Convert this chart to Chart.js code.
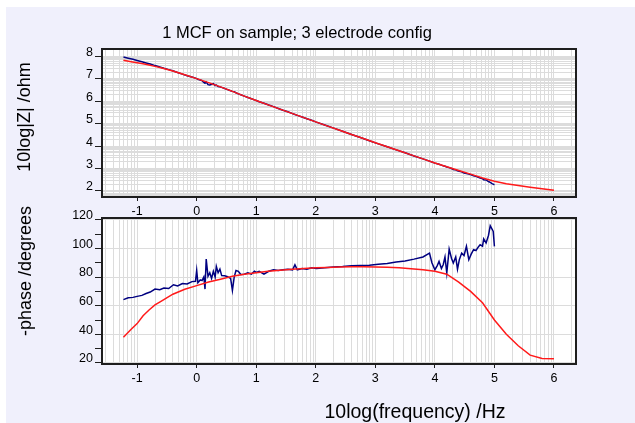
<!DOCTYPE html>
<html>
<head>
<meta charset="utf-8">
<script src="https://cdn.jsdelivr.net/npm/chart.js@4/dist/chart.umd.min.js"></script>
<style>
  html, body { margin: 0; padding: 0; background: #ffffff; width: 635px; height: 423px; overflow: hidden; }
  #panel { position: absolute; left: 6px; top: 7px; width: 629px; height: 416px; background: #f0f0fc; }
  canvas { position: absolute; left: 0; }
  #cZ { top: 0; }
  #cP { top: 200px; }
  .txt { position: absolute; font-family: "Liberation Sans", Arial, sans-serif; font-size: 18px; color: #000; white-space: nowrap; line-height: 1; }
  .rot { transform: translate(-50%, -50%) rotate(-90deg); }
  .ctr { transform: translate(-50%, -50%); }
</style>
</head>
<body>
<div id="panel"></div>
<canvas id="cZ" width="635" height="225"></canvas>
<canvas id="cP" width="635" height="223"></canvas>
<div class="txt ctr" style="left:297px; top:32px; font-size:16.5px;">1 MCF on sample; 3 electrode config</div>
<div class="txt rot" style="left:24px; top:117px;">10log|Z| /ohm</div>
<div class="txt rot" style="left:25px; top:271px;">-phase /degrees</div>
<div class="txt ctr" style="left:415px; top:412px; font-size:19.5px;">10log(frequency) /Hz</div>
<script>
// ---- tick labels ----
const freqTicks = [-1, 0, 1, 2, 3, 4, 5, 6];
const zTicks = [2, 3, 4, 5, 6, 7, 8];
const phaseTicks = [20, 40, 60, 80, 100, 120];

// ---- fitted model (red) ----
const fitLogF = [-1.23, -1.1, -1.0, -0.9, -0.8, -0.7, -0.6, -0.4, -0.2, 0.0, 0.2, 0.4, 0.6, 0.8, 1.0, 1.2, 1.4, 1.6, 1.8,
  2.0, 2.2, 2.4, 2.6, 2.8, 3.0, 3.2, 3.4, 3.6, 3.8, 4.0, 4.2, 4.4, 4.6, 4.8, 5.0, 5.2, 5.4, 5.6, 5.8, 6.0];
const fitZ = [7.83, 7.765, 7.72, 7.67, 7.62, 7.555, 7.49, 7.35, 7.18, 7.01, 6.83, 6.64, 6.44, 6.23, 6.03, 5.84, 5.65, 5.46, 5.27,
  5.08, 4.89, 4.71, 4.52, 4.34, 4.15, 3.97, 3.79, 3.61, 3.43, 3.25, 3.08, 2.91, 2.75, 2.58, 2.43, 2.32, 2.24, 2.17, 2.10, 2.03];
const fitPhase = [38, 43.5, 47.5, 53, 57, 60.5, 63, 68, 71.5, 74, 76.5, 78.5, 80.5, 82, 83, 84, 84.8, 85.5, 86,
  86.4, 86.7, 87, 87.1, 87.1, 87, 86.8, 86.4, 85.8, 85, 84, 82, 76.5, 70, 62, 50, 40, 32, 25.5, 23.2, 23];

// ---- measured data (blue) ----
const measLogF = [-1.23, -1.15, -1.07, -1.0, -0.92, -0.85, -0.78, -0.70, -0.62, -0.55, -0.47, -0.39, -0.32, -0.24, -0.16, -0.08, -0.02,
  0.0, 0.02, 0.06, 0.09, 0.12, 0.14, 0.16, 0.19, 0.22, 0.25, 0.28, 0.31, 0.33, 0.36, 0.39, 0.42, 0.47, 0.52, 0.57, 0.60, 0.63, 0.66,
  0.70, 0.74, 0.80, 0.86, 0.92, 0.97, 1.0, 1.05, 1.13, 1.21, 1.29, 1.37, 1.45, 1.53, 1.61, 1.65, 1.69, 1.77, 1.85, 1.93, 2.01,
  2.15, 2.30, 2.45, 2.60, 2.75, 2.90, 3.05, 3.20, 3.35, 3.50, 3.65, 3.80, 3.91, 3.95, 4.00, 4.04, 4.07, 4.11, 4.14, 4.17, 4.20,
  4.24, 4.28, 4.31, 4.35, 4.38, 4.41, 4.45, 4.49, 4.53, 4.57, 4.61, 4.65, 4.69, 4.73, 4.76, 4.80, 4.82, 4.86, 4.90, 4.93, 4.96, 4.98, 5.00];
const measZ = [7.97, 7.92, 7.87, 7.82, 7.76, 7.71, 7.66, 7.59, 7.53, 7.47, 7.41, 7.35, 7.28, 7.21, 7.14, 7.08, 7.03,
  7.01, 6.98, 6.95, 6.92, 6.84, 6.80, 6.86, 6.74, 6.73, 6.76, 6.79, 6.70, 6.72, 6.66, 6.64, 6.62, 6.57, 6.52, 6.47, 6.44, 6.42, 6.38,
  6.33, 6.29, 6.23, 6.17, 6.11, 6.06, 6.03, 5.98, 5.91, 5.83, 5.76, 5.68, 5.60, 5.53, 5.45, 5.41, 5.37, 5.30, 5.22, 5.15, 5.07,
  4.94, 4.80, 4.66, 4.52, 4.38, 4.24, 4.10, 3.97, 3.83, 3.70, 3.56, 3.43, 3.33, 3.29, 3.24, 3.21, 3.19, 3.15, 3.12, 3.10, 3.07,
  3.04, 3.00, 2.96, 2.94, 2.90, 2.88, 2.85, 2.80, 2.78, 2.75, 2.72, 2.68, 2.65, 2.61, 2.58, 2.55, 2.50, 2.49, 2.42, 2.38, 2.33, 2.30, 2.27];
const measPhase = [64.2, 65.5, 65.8, 66.5, 67.2, 68.5, 69.5, 71.6, 71.2, 72.3, 72.0, 74.6, 73.8, 75.5, 75.2, 76.8, 77,
  84.6, 76, 78, 77.5, 80, 71.6, 92.6, 80.5, 83, 79, 84, 80, 87.4, 83, 85.5, 81, 80.9, 80.2, 79, 70.7, 80, 84.6,
  84, 81.8, 82, 83, 82, 84, 83.2, 84, 82, 84, 85, 84.5, 85, 85.5, 85, 88.5, 85, 86, 85.5, 86.5, 86,
  86.5, 87, 87.3, 87.8, 88, 88.3, 88.9, 89.5, 90.5, 91.2, 92.5, 94, 96.7, 90, 85.1, 88, 90.9, 86, 88.6, 94, 82.8,
  99.5, 93, 89.8, 94, 85.5, 92, 96.7, 95, 101.4, 92.1, 96, 99.1, 98.5, 101, 102.6, 101.5, 106.6, 103.8, 109, 115.8, 113.5, 111.8, 101.4];

const FONT = { family: '"Liberation Sans", Arial, sans-serif', size: 12.5 };
const GRID = '#dcdcdc';
const INK = '#1e1e1e';
const FIT_COLOR = '#ff1a1a';
const MEAS_COLOR = '#000080';
const isInt = v => Math.abs(v - Math.round(v)) < 1e-9;

// decade-style subdivisions n + log10(k) between the integer ticks
function logSubdivisions(lo, hi) {
  const out = [];
  for (let n = Math.floor(lo) - 1; n <= Math.ceil(hi); n++) {
    for (let k = 1; k <= 9; k++) {
      const v = n + Math.log10(k);
      if (v >= lo - 1e-9 && v <= hi + 1e-9) out.push(v);
    }
  }
  return out;
}

const pts = (xs, ys) => xs.map((x, i) => ({ x, y: ys[i] }));
const series = (xs, ys, color) => ({ data: pts(xs, ys), borderColor: color, borderWidth: 1.5, pointRadius: 0, tension: 0 });

// white plotting area and dark frame around it
const framePlugin = {
  id: 'frame',
  beforeDraw(chart) {
    const a = chart.chartArea, c = chart.ctx;
    c.save();
    c.fillStyle = '#ffffff';
    c.fillRect(a.left, a.top, a.right - a.left, a.bottom - a.top);
    c.restore();
  },
  afterDatasetsDraw(chart) {
    const a = chart.chartArea, c = chart.ctx;
    c.save();
    c.strokeStyle = INK;
    c.lineWidth = 2;
    c.strokeRect(a.left, a.top, a.right - a.left, a.bottom - a.top);
    c.restore();
  }
};

function xScale(min, max) {
  return {
    type: 'linear', min, max,
    afterBuildTicks: s => { s.ticks = logSubdivisions(min, max).map(v => ({ value: v })); },
    afterFit: s => { s.height = 20; },
    border: { display: false },
    grid: {
      color: GRID, lineWidth: 1, drawTicks: true, tickLength: 4,
      tickColor: ctx => isInt(ctx.tick.value) && freqTicks.includes(Math.round(ctx.tick.value)) ? INK : 'rgba(0,0,0,0)',
      tickWidth: 1
    },
    ticks: {
      autoSkip: false, maxRotation: 0, padding: 3, color: '#000', font: FONT,
      callback: v => (isInt(v) && freqTicks.includes(Math.round(v))) ? String(Math.round(v)) : ''
    }
  };
}

const X_MIN = -1.59, X_MAX = 6.37;

// ---- impedance magnitude ----
const zMin = 1.73, zMax = 8.33;
new Chart(document.getElementById('cZ'), {
  type: 'line',
  data: { datasets: [series(fitLogF, fitZ, FIT_COLOR), series(measLogF, measZ, MEAS_COLOR)] },
  options: {
    responsive: false, animation: false, devicePixelRatio: 1,
    layout: { padding: { left: 62, right: 59, top: 49, bottom: 8 } },
    plugins: { legend: { display: false }, tooltip: { enabled: false } },
    scales: {
      x: xScale(X_MIN, X_MAX),
      y: {
        type: 'linear', min: zMin, max: zMax,
        afterBuildTicks: s => { s.ticks = logSubdivisions(zMin, zMax).map(v => ({ value: v })); },
        afterFit: s => { s.width = 40; },
        border: { display: false },
        grid: {
          color: GRID, lineWidth: 1, tickLength: 7, tickWidth: 1,
          tickColor: ctx => (isInt(ctx.tick.value) && zTicks.includes(Math.round(ctx.tick.value))) ? INK : 'rgba(0,0,0,0)'
        },
        ticks: {
          autoSkip: false, padding: 2, labelOffset: -4, color: '#000', font: FONT,
          callback: v => (isInt(v) && zTicks.includes(Math.round(v))) ? String(Math.round(v)) : ''
        }
      }
    }
  },
  plugins: [framePlugin]
});

// ---- phase ----
const pMin = 19.3, pMax = 121.2;
new Chart(document.getElementById('cP'), {
  type: 'line',
  data: { datasets: [series(fitLogF, fitPhase, FIT_COLOR), series(measLogF, measPhase, MEAS_COLOR)] },
  options: {
    responsive: false, animation: false, devicePixelRatio: 1,
    layout: { padding: { left: 62, right: 59, top: 18, bottom: 39 } },
    plugins: { legend: { display: false }, tooltip: { enabled: false } },
    scales: {
      x: xScale(X_MIN, X_MAX),
      y: {
        type: 'linear', min: pMin, max: pMax,
        afterBuildTicks: s => {
          const t = [];
          for (let v = phaseTicks[0]; v <= phaseTicks[phaseTicks.length - 1]; v += 10) t.push({ value: v });
          s.ticks = t;
        },
        afterFit: s => { s.width = 40; },
        border: { display: false },
        grid: {
          color: ctx => phaseTicks.includes(ctx.tick.value) ? GRID : 'rgba(0,0,0,0)',
          lineWidth: 1, tickLength: 7, tickWidth: 1, tickColor: INK
        },
        ticks: {
          autoSkip: false, padding: 2, labelOffset: -4, color: '#000', font: FONT,
          callback: v => phaseTicks.includes(v) ? String(v) : ''
        }
      }
    }
  },
  plugins: [framePlugin]
});
</script>
</body>
</html>
